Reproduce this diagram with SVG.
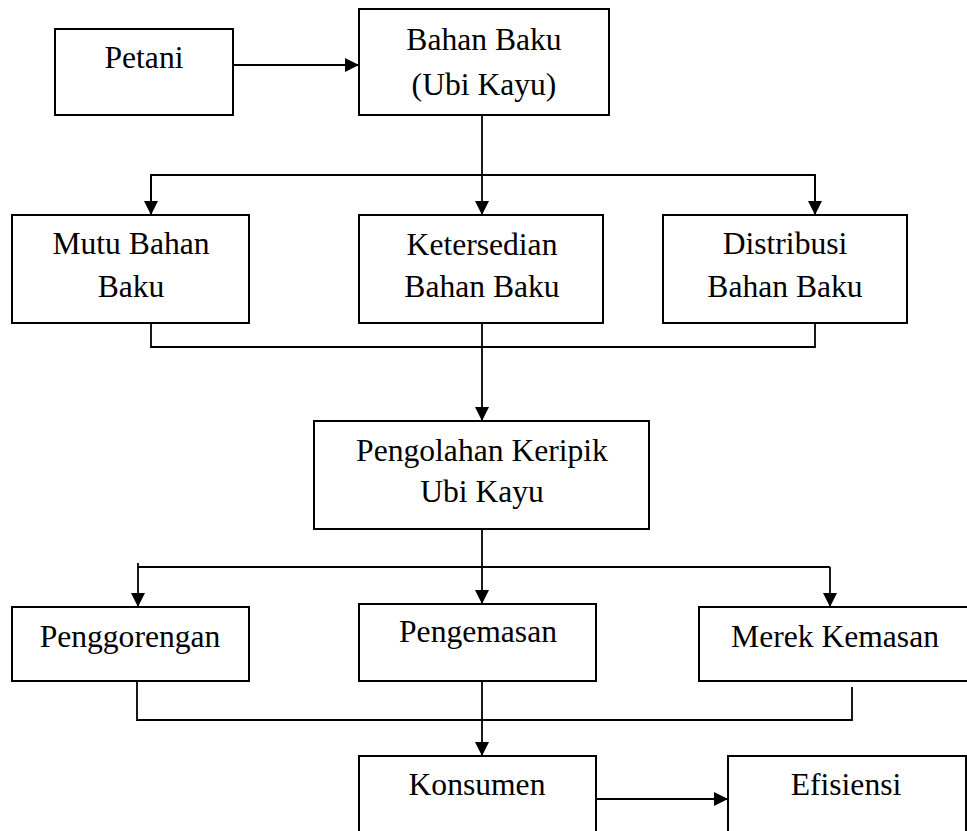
<svg xmlns="http://www.w3.org/2000/svg" width="967" height="831" viewBox="0 0 967 831">
<style>
.box{fill:#fff;stroke:#000;stroke-width:2}
.ln{fill:none;stroke:#000;stroke-width:1.8}
.t{font-family:'Liberation Serif','DejaVu Serif',serif;font-size:31.6px;fill:#000;text-anchor:middle}
</style>
<defs>
<marker id="ah" viewBox="0 0 14 14" refX="14" refY="7" markerWidth="14" markerHeight="14" markerUnits="userSpaceOnUse" orient="auto">
<path d="M0,0 L14,7 L0,14 z" fill="#000"/>
</marker>
</defs>
<rect width="967" height="831" fill="#fff"/>
<g id="connectors">
<line class="ln" x1="233" y1="65" x2="359" y2="65" marker-end="url(#ah)"/>
<line class="ln" x1="482" y1="115" x2="482" y2="215" marker-end="url(#ah)"/>
<polyline class="ln" points="151,215 151,175 815,175 815,215"/>
<line class="ln" x1="151" y1="175" x2="151" y2="215" marker-end="url(#ah)"/>
<line class="ln" x1="815" y1="175" x2="815" y2="215" marker-end="url(#ah)"/>
<polyline class="ln" points="151,323 151,347 815,347 815,323"/>
<line class="ln" x1="482" y1="323" x2="482" y2="421" marker-end="url(#ah)"/>
<line class="ln" x1="482" y1="529" x2="482" y2="604" marker-end="url(#ah)"/>
<line class="ln" x1="138" y1="567" x2="830" y2="567"/>
<line class="ln" x1="138" y1="563" x2="138" y2="607" marker-end="url(#ah)"/>
<line class="ln" x1="830" y1="567" x2="830" y2="607" marker-end="url(#ah)"/>
<polyline class="ln" points="137,681 137,720 852,720 852,687"/>
<line class="ln" x1="482" y1="681" x2="482" y2="756" marker-end="url(#ah)"/>
<line class="ln" x1="596" y1="799" x2="728" y2="799" marker-end="url(#ah)"/>
</g>
<g id="petani"><rect class="box" x="55" y="29" width="178" height="86"/><text class="t" x="144" y="68">Petani</text></g>
<g id="bahan-baku"><rect class="box" x="359" y="9" width="250" height="106"/><text class="t" x="484" y="50">Bahan Baku</text><text class="t" x="484" y="95">(Ubi Kayu)</text></g>
<g id="mutu"><rect class="box" x="12" y="215" width="237" height="108"/><text class="t" x="131" y="254">Mutu Bahan</text><text class="t" x="131" y="297">Baku</text></g>
<g id="ketersedian"><rect class="box" x="359" y="215" width="244" height="108"/><text class="t" x="482" y="255">Ketersedian</text><text class="t" x="482" y="297">Bahan Baku</text></g>
<g id="distribusi"><rect class="box" x="663" y="215" width="244" height="108"/><text class="t" x="785" y="254">Distribusi</text><text class="t" x="785" y="297">Bahan Baku</text></g>
<g id="pengolahan"><rect class="box" x="314" y="421" width="335" height="108"/><text class="t" x="482" y="461">Pengolahan Keripik</text><text class="t" x="482" y="502">Ubi Kayu</text></g>
<g id="penggorengan"><rect class="box" x="12" y="607" width="237" height="74"/><text class="t" x="130" y="647">Penggorengan</text></g>
<g id="pengemasan"><rect class="box" x="359" y="604" width="237" height="77"/><text class="t" x="478" y="642">Pengemasan</text></g>
<g id="merek"><rect class="box" x="699" y="607" width="280" height="74"/><text class="t" x="835" y="647">Merek Kemasan</text></g>
<g id="konsumen"><rect class="box" x="359" y="756" width="237" height="100"/><text class="t" x="477" y="795">Konsumen</text></g>
<g id="efisiensi"><rect class="box" x="728" y="756" width="238" height="100"/><text class="t" x="846" y="795">Efisiensi</text></g>
</svg>
